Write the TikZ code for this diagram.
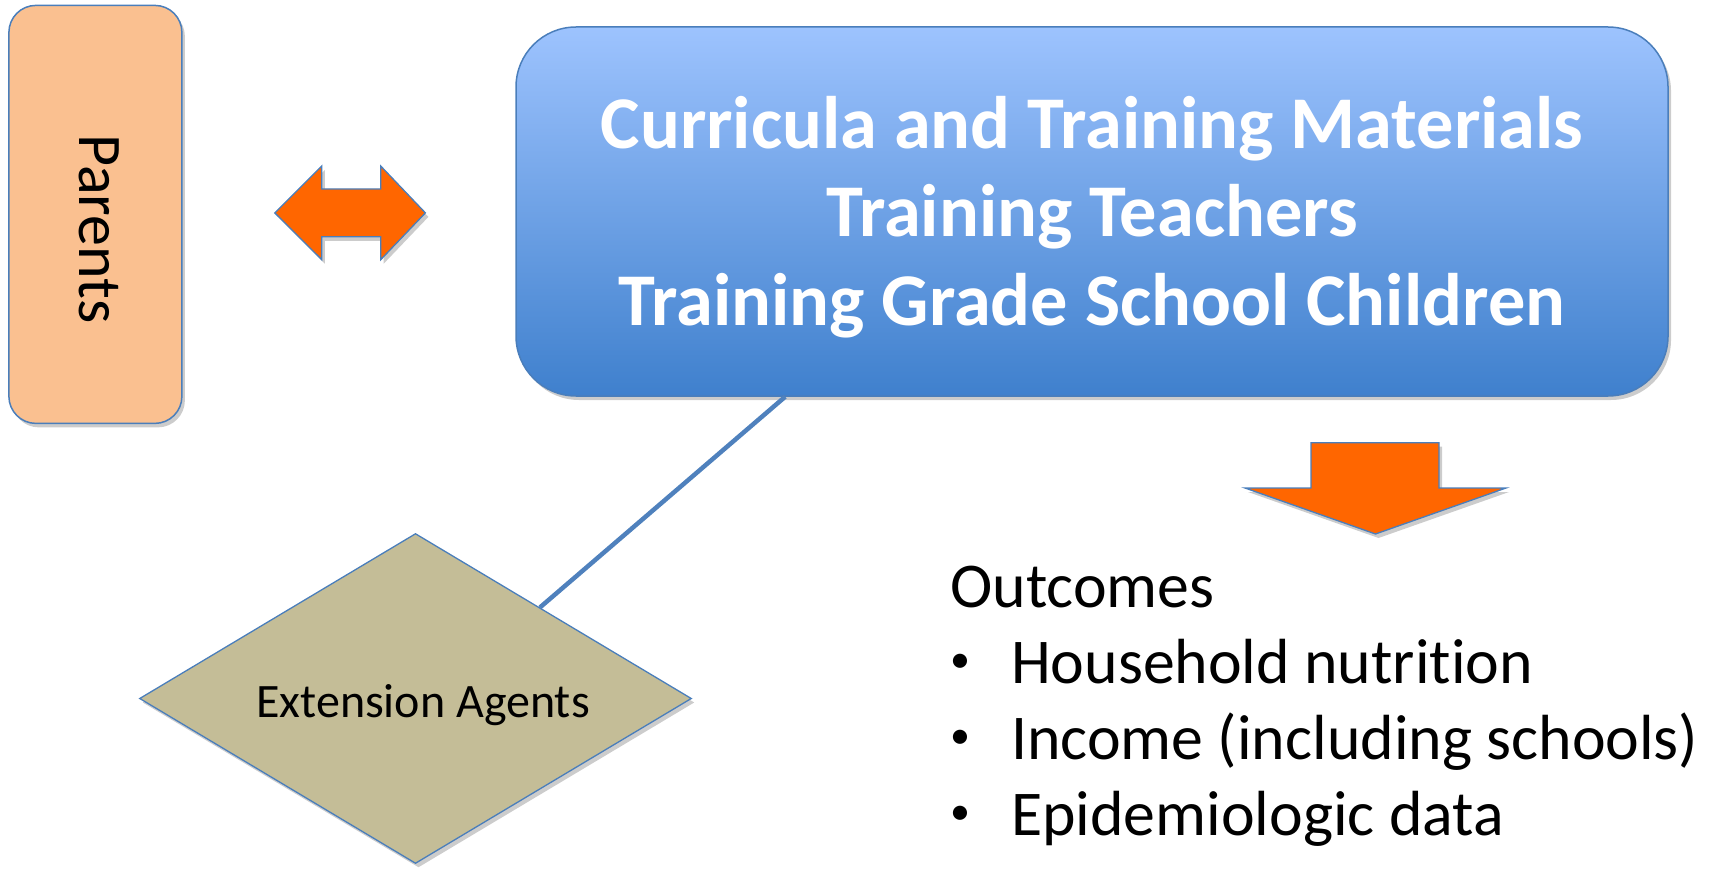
\documentclass[tikz,border=0pt]{standalone}
\usepackage{fontspec}
\setmainfont{Carlito}[Ligatures={NoCommon}]
\usetikzlibrary{shapes.geometric,calc,shadows}
\definecolor{bordblue}{HTML}{4A7EBB}
\definecolor{linkblue}{HTML}{4F81BD}
\definecolor{peach}{HTML}{FAC090}
\definecolor{tanfill}{HTML}{C4BD97}
\definecolor{orng}{HTML}{FF6600}
\definecolor{btop}{HTML}{9DC3FE}
\definecolor{bbot}{HTML}{3F80CD}
\definecolor{shad}{HTML}{CCCCCC}
\begin{document}
\begin{tikzpicture}[x=1pt,y=-1pt,
  shdw/.style={drop shadow={shadow xshift=3pt,shadow yshift=-4pt,fill=shad,opacity=1}},
  parentbox/.style={draw=bordblue,line width=1.5pt,fill=peach,rounded corners=27pt,
    minimum width=173pt,minimum height=418pt,inner sep=0pt,shdw},
  mainbox/.style={draw=bordblue,line width=1.5pt,top color=btop,bottom color=bbot,
    rounded corners=60pt,minimum width=1152pt,minimum height=369pt,inner sep=0pt,shdw},
  agentbox/.style={diamond,aspect=1.672,draw=bordblue,line width=1.3pt,fill=tanfill,
    minimum width=552pt,minimum height=330pt,inner sep=0pt,shdw},
  agenttext/.style={inner sep=0pt,anchor=base,font=\fontsize{48}{58}\selectfont},
  blockarrow/.style={draw=bordblue,line width=1.3pt,fill=orng,line join=miter,shdw},
  conn/.style={draw=linkblue,line width=4.5pt},
  outtxt/.style={anchor=base west,inner sep=0pt,font=\fontsize{63.8}{76}\selectfont},
  bul/.style={anchor=center,inner sep=0pt,font=\fontsize{40}{48}\selectfont}]
\useasboundingbox (0,0) rectangle (1712,869);

% Parents
\node[parentbox] (par) at (95.4,214.4) {};
\node[rotate=-90,inner sep=0pt,font=\fontsize{62}{74}\selectfont] (partext) at (99,228.9) {Parents};

% double arrow
\path[blockarrow] (274.8,212.9) -- (321.8,166) -- (321.8,189) -- (380.7,189) -- (380.7,166)
  -- (425.4,212.9) -- (380.7,259.7) -- (380.7,236.8) -- (321.8,236.8) -- (321.8,259.7) -- cycle;

% main box
\node[mainbox] (cur) at (1092,211.5) {};
\node[align=center,inner sep=0pt,text=white,font=\bfseries\fontsize{74.4}{88.5}\selectfont]
  (title) at (1092,217) {Curricula and Training Materials\\Training Teachers\\Training Grade School Children};

% diamond
\node[agentbox] (ea) at (415.5,698.5) {};
\node[agenttext] (eatext) at (423,717) {Extension Agents};

% connector
\draw[conn] ($(cur.south west)!0.234!(cur.south east)$) -- ($(ea.north)!0.45!(ea.east)$);

% down arrow
\path[blockarrow] (1311,442.7) -- (1439,442.7) -- (1439,488) -- (1506,488) -- (1375.5,534)
  -- (1245,488) -- (1311,488) -- cycle;

% outcomes
\node[outtxt] (out) at (950.3,607) {Outcomes};
\node[bul] (b1) at (960.2,663.6) {\textbullet};
\node[outtxt] (o1) at (1011,683.6) {Household nutrition};
\node[bul] (b2) at (960.2,739.2) {\textbullet};
\node[outtxt] (o2) at (1011,759.2) {Income (including schools)};
\node[bul] (b3) at (960.2,815.3) {\textbullet};
\node[outtxt] (o3) at (1011,835.3) {Epidemiologic data};
\end{tikzpicture}
\end{document}
